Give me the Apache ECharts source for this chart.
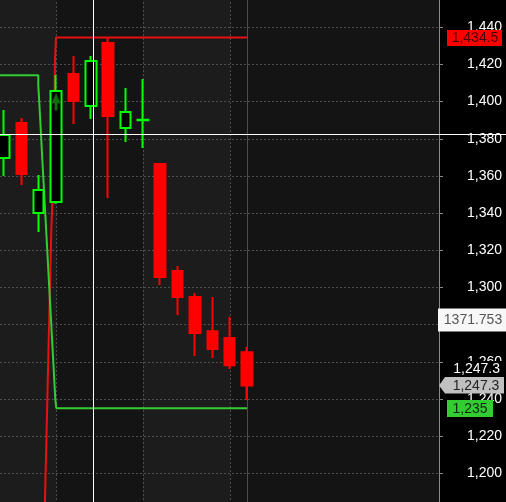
<!DOCTYPE html>
<html><head><meta charset="utf-8">
<script src="https://cdn.jsdelivr.net/npm/echarts@6/dist/echarts.min.js"></script>
<style>html,body{margin:0;padding:0;background:#000;}#c{width:506px;height:502px;}</style>
</head><body><div id="c"></div>
<script>
// ---- data ----
const barIndex = [0, 1, 2, 3, 4, 5, 6, 7, 8, 9, 10, 11, 12, 13, 14];
const opens  = [1369.7, 1388.5, 1340.1, 1346.0, 1414.9, 1397.6, 1431.5, 1385.8, 1390.0, 1366.4, 1308.8, 1294.8, 1276.5, 1272.8, 1265.2];
const closes = [1382.0, 1361.0, 1352.4, 1405.7, 1400.3, 1421.9, 1392.3, 1394.4, 1390.2, 1305.6, 1294.8, 1275.5, 1266.9, 1258.2, 1247.3];
const lows   = [1360.0, 1355.1, 1329.8, 1345.0, 1388.0, 1390.6, 1348.1, 1378.3, 1375.0, 1301.3, 1285.2, 1263.1, 1262.0, 1256.1, 1239.4];
const highs  = [1395.5, 1391.2, 1360.5, 1414.3, 1424.6, 1424.6, 1434.5, 1407.3, 1412.2, 1366.4, 1311.5, 1297.0, 1294.8, 1284.1, 1267.9];

// stepped range lines (bar-index units, price)
const greenStepX = [-1, 1.976, 2.034, 2.091, 2.149, 2.206, 2.264, 2.322, 2.379, 2.437, 2.495, 2.552, 2.610, 2.668, 2.725, 2.783, 2.840, 2.898, 2.956, 3.013, 14];
const greenStepY = [1414.2, 1408.9, 1399.4, 1389.7, 1379.3, 1369.0, 1359.4, 1349.2, 1339.5, 1329.5, 1319.6, 1309.4, 1299.5, 1289.6, 1279.8, 1269.8, 1260.0, 1249.8, 1239.8, 1235.0, 1235.0];
const redStepX = [2.32, 2.379, 2.437, 2.495, 2.552, 2.610, 2.668, 2.725, 2.783, 2.840, 2.898, 2.938, 2.996, 14];
const redStepY = [1170, 1192.7, 1215.6, 1238.9, 1262.7, 1284.6, 1307.6, 1330.9, 1345.8, 1368.6, 1392.8, 1422.8, 1434.5, 1434.5];

// signal arrow
const signalX = [3];
const signalY = [1400];

// sessions and current bar
const sessionBreaks = [3, 8, 13];
const currentBar = [14];

// crosshair
const crossX = 5.128;
const crossY = 1382.6;

// y ticks
const yTickValues = [1180, 1200, 1220, 1240, 1260, 1280, 1300, 1320, 1340, 1360, 1380, 1400, 1420, 1440, 1460];
const yTickLabels = ['1,180', '1,200', '1,220', '1,240', '1,260', '1,280', '1,300', '1,320', '1,340', '1,360', '1,380', '1,400', '1,420', '1,440', '1,460'];

// price tags
const tagValues = [1434.5, 1282.5, 1247.3, 1235.0];
const tagTexts  = ['1,434.5', '1371.753', '1,247.3', '1,235'];
const lastPriceText = '1,247.3';

// ---- chart ----
const FONT = '14px "Liberation Sans", Arial, sans-serif';
const chart = echarts.init(document.getElementById('c'), null, {renderer: 'canvas'});

const candleData = barIndex.map((x, i) => [x, opens[i], closes[i], lows[i], highs[i]]);
const greenData = greenStepX.map((x, i) => [x, greenStepY[i]]);
const redData = redStepX.map((x, i) => [x, redStepY[i]]);
const bandStarts = [-1].concat(sessionBreaks);
const bandEnds = sessionBreaks.concat([26]);
const bandData = bandStarts.map((s, i) => [s, bandEnds[i], i % 2 === 0 ? 1 : 0]);

function renderBand(params, api) {
  const cs = params.coordSys;
  const right = cs.x + cs.width;
  const xs = Math.round(api.coord([api.value(0), 1300])[0]);
  const x0 = Math.max(cs.x, xs);
  const x1 = Math.min(right, Math.round(api.coord([api.value(1), 1300])[0]));
  const light = api.value(2) === 1;
  const lx = xs + 0.5;
  return {type: 'group', children: [
    {type: 'rect', shape: {x: x0, y: cs.y, width: Math.max(0, x1 - x0), height: cs.height},
     style: {fill: light ? '#1c1c1c' : '#141414'}},
    {type: 'line', shape: {x1: lx, y1: cs.y, x2: lx, y2: cs.y + cs.height},
     style: {stroke: '#505050', lineWidth: 1, lineDash: [2, 2]}}
  ]};
}
function renderCurrent(params, api) {
  const cs = params.coordSys;
  const x = Math.round(api.coord([api.value(0), 1300])[0]) + 0.5;
  return {type: 'line', shape: {x1: x, y1: cs.y, x2: x, y2: cs.y + cs.height},
          style: {stroke: '#4d4d4d', lineWidth: 1}};
}

chart.setOption({
  animation: false,
  backgroundColor: '#000',
  grid: {left: 0, right: 67, top: -9.87, bottom: -8.46, containLabel: false, outerBoundsMode: 'none', show: false},
  xAxis: {type: 'value', min: -0.2305, max: 25.062, show: false, splitLine: {show: false}, axisLine: {onZero: false}},
  yAxis: {
    type: 'value', position: 'right', min: 1180, max: 1460, interval: 20, z: 2,
    axisLine: {show: true, onZero: false, lineStyle: {color: '#8a8a8a', width: 1}},
    axisTick: {show: true, length: 4, lineStyle: {color: '#8a8a8a'}},
    axisLabel: {
      color: '#ffffff', fontSize: 14, fontFamily: '"Liberation Sans", Arial, sans-serif',
      align: 'right', margin: 63, hideOverlap: false,
      formatter: v => { const k = yTickValues.indexOf(v); return k >= 0 ? yTickLabels[k] : ''; }
    },
    splitLine: {show: true, lineStyle: {color: '#4e4e4e', width: 1, type: [2, 2]}}
  },
  series: [
    {type: 'custom', z: 1, renderItem: renderBand, data: bandData, encode: {x: [0, 1]}, silent: true},
    {type: 'custom', z: 1, renderItem: renderCurrent, data: currentBar.map(v => [v]), encode: {x: 0}, silent: true},
    {type: 'line', z: 3, data: redData, step: 'end', symbol: 'none', showSymbol: false,
     lineStyle: {color: '#e81010', width: 2}},
    {type: 'line', z: 3, data: greenData, step: 'end', symbol: 'none', showSymbol: false,
     lineStyle: {color: '#33cc33', width: 2}},
    {type: 'candlestick', z: 4, data: candleData, barWidth: 11,
     itemStyle: {color: '#000000', color0: '#ff0000', borderColor: '#00ff00', borderColor0: '#ff0000', borderWidth: 2}},
    {type: 'scatter', z: 5, data: signalX.map((x, i) => [x, signalY[i]]),
     symbol: 'path://M4.5,0 L9,10 L6,10 L6,17 L3,17 L3,10 L0,10 Z', symbolSize: [9, 17],
     itemStyle: {color: '#128a12'}}
  ]
});

// overlays positioned through the chart's own scales
const py = v => chart.convertToPixel({yAxisIndex: 0}, v);
const pxx = v => chart.convertToPixel({xAxisIndex: 0}, v);
const axisX = Math.round(pxx(25.062));
function txt(x, y, s, color, align) {
  return {type: 'text', x: x, y: y, z: 101, style: {text: s, fill: color, font: FONT, align: align || 'center', verticalAlign: 'middle'}};
}
function box(x, y, w, h, fill) {
  return {type: 'rect', z: 100, shape: {x: x, y: y, width: w, height: h}, style: {fill: fill}};
}
const g = [];
// red high tag
let y0 = py(tagValues[0]);
g.push(box(axisX + 8, Math.round(y0) - 8, 55, 16, '#ff0000'));
g.push(txt(axisX + 36, y0 + 0.5, tagTexts[0], '#4a0000'));
// white indicator tag
let y1 = py(tagValues[1]);
g.push(box(axisX - 1, Math.round(y1) - 11.5, 68, 23, '#f7f7f7'));
g.push(txt(axisX + 34, y1 + 0.5, tagTexts[1], '#555555'));
// last price plain + arrow tag
let y2 = py(tagValues[2]);
g.push(box(axisX + 11, Math.round(y2) - 24, 56, 15, '#000000'));
g.push(txt(axisX + 61, y2 - 16, lastPriceText, '#ffffff', 'right'));
g.push({type: 'polygon', z: 100, shape: {points: [[axisX, y2], [axisX + 6, y2 - 8.5], [axisX + 65, y2 - 8.5], [axisX + 65, y2 + 8], [axisX + 6, y2 + 8]]}, style: {fill: '#c0c0c0'}});
g.push(txt(axisX + 37, y2 + 0.5, tagTexts[2], '#222222'));
// green low tag
let y3 = py(tagValues[3]);
g.push(box(axisX + 8, Math.round(y3) - 8, 46, 17, '#33cc33'));
g.push(txt(axisX + 31, y3 + 0.5, tagTexts[3], '#0a2a0a'));
// crosshair
const cy = Math.round(py(crossY)) + 0.5;
const cx = Math.round(pxx(crossX)) + 0.5;
g.push({type: 'line', z: 120, shape: {x1: 0, y1: cy, x2: 506, y2: cy}, style: {stroke: '#ffffff', lineWidth: 1}});
g.push({type: 'line', z: 120, shape: {x1: cx, y1: 0, x2: cx, y2: 502}, style: {stroke: '#ffffff', lineWidth: 1}});
chart.setOption({graphic: g});
</script>
</body></html>
